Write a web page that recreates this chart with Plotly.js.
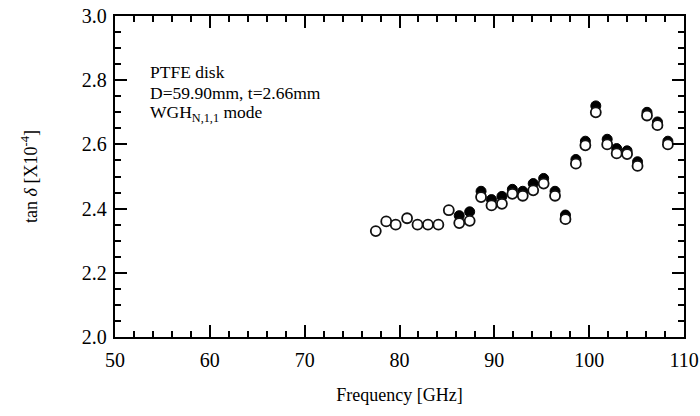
<!DOCTYPE html>
<html>
<head>
<meta charset="utf-8">
<script src="https://cdn.plot.ly/plotly-3.0.1.min.js"></script>
<style>html,body{margin:0;padding:0;background:#fff;}#chart{width:700px;height:416px;}</style>
</head>
<body>
<div id="chart"></div>
<script>
// Open circles (frequency in GHz, tan delta x1e-4)
const freqOpen = [77.5, 78.6, 79.6, 80.8, 81.9, 83.0, 84.1, 85.2, 86.3, 87.4, 88.6, 89.7, 90.8, 91.9, 93.0, 94.1, 95.2, 96.4, 97.5, 98.6, 99.6, 100.7, 101.9, 102.9, 104.0, 105.1, 106.1, 107.2, 108.3];
const tanOpen  = [2.33, 2.36, 2.35, 2.37, 2.35, 2.35, 2.35, 2.395, 2.355, 2.362, 2.436, 2.41, 2.415, 2.446, 2.44, 2.457, 2.478, 2.44, 2.367, 2.54, 2.597, 2.70, 2.60, 2.572, 2.57, 2.533, 2.69, 2.66, 2.60];
// Filled circles
const freqFilled = [86.3, 87.4, 88.6, 89.7, 90.8, 91.9, 93.0, 94.1, 95.2, 96.4, 97.5, 98.6, 99.6, 100.7, 101.9, 102.9, 104.0, 105.1, 106.1, 107.2, 108.3];
const tanFilled  = [2.378, 2.39, 2.454, 2.428, 2.438, 2.46, 2.454, 2.478, 2.494, 2.454, 2.38, 2.553, 2.61, 2.72, 2.616, 2.587, 2.58, 2.546, 2.70, 2.67, 2.61];

const xTicks = [50, 60, 70, 80, 90, 100, 110];
const yTicks = [2.0, 2.2, 2.4, 2.6, 2.8, 3.0];
const yTickText = ["2.0", "2.2", "2.4", "2.6", "2.8", "3.0"];
const noteLines = ["PTFE disk", "D=59.90mm, t=2.66mm", "WGH<sub>N,1,1</sub> mode"];

const FONT = '"Liberation Serif", "Times New Roman", serif';

const traces = [
  {x: freqFilled, y: tanFilled, type: 'scatter', mode: 'markers',
   marker: {symbol: 'circle', size: 10, color: '#000', line: {color: '#000', width: 1}}, hoverinfo: 'skip'},
  {x: freqOpen, y: tanOpen, type: 'scatter', mode: 'markers',
   marker: {symbol: 'circle', size: 10, color: '#fff', line: {color: '#111', width: 1.8}}, hoverinfo: 'skip'}
];

const layout = {
  width: 700, height: 416,
  margin: {l: 115, r: 16, t: 16, b: 79},
  paper_bgcolor: '#fff', plot_bgcolor: '#fff',
  showlegend: false,
  font: {family: FONT, color: '#000', size: 18},
  xaxis: {
    range: [50, 110], tickvals: xTicks, ticktext: xTicks.map(String),
    ticks: 'inside', ticklen: 12, tickwidth: 2, tickcolor: '#000',
    minor: {dtick: 2, tick0: 50, ticks: 'inside', ticklen: 6, tickwidth: 2, tickcolor: '#000'},
    showline: true, linecolor: '#000', linewidth: 2.2, mirror: 'allticks',
    showgrid: false, zeroline: false,
    tickfont: {family: FONT, size: 20, color: '#000'},
    ticklabelstandoff: 4,
    title: {text: 'Frequency [GHz]', font: {family: FONT, size: 18, color: '#000'}, standoff: 18},
    automargin: false
  },
  yaxis: {
    range: [2.0, 3.0], tickvals: yTicks, ticktext: yTickText,
    ticks: 'inside', ticklen: 12, tickwidth: 2, tickcolor: '#000',
    minor: {dtick: 0.05, tick0: 2.0, ticks: 'inside', ticklen: 6, tickwidth: 2, tickcolor: '#000'},
    showline: true, linecolor: '#000', linewidth: 2.2, mirror: 'allticks',
    showgrid: false, zeroline: false,
    tickfont: {family: FONT, size: 20, color: '#000'},
    ticklabelstandoff: 2,
    title: {text: 'tan <i>δ</i> [X10<sup>-4</sup>]', font: {family: FONT, size: 18, color: '#000'}, standoff: 40},
    automargin: false
  },
  annotations: noteLines.map((t, i) => ({
    text: t, xref: 'x', yref: 'y', x: 53.5, y: 2.825 - i * 0.064,
    xanchor: 'left', yanchor: 'middle', showarrow: false,
    font: {family: FONT, size: 17.5, color: '#000'}
  }))
};

Plotly.newPlot('chart', traces, layout, {staticPlot: true, displayModeBar: false});
</script>
</body>
</html>
